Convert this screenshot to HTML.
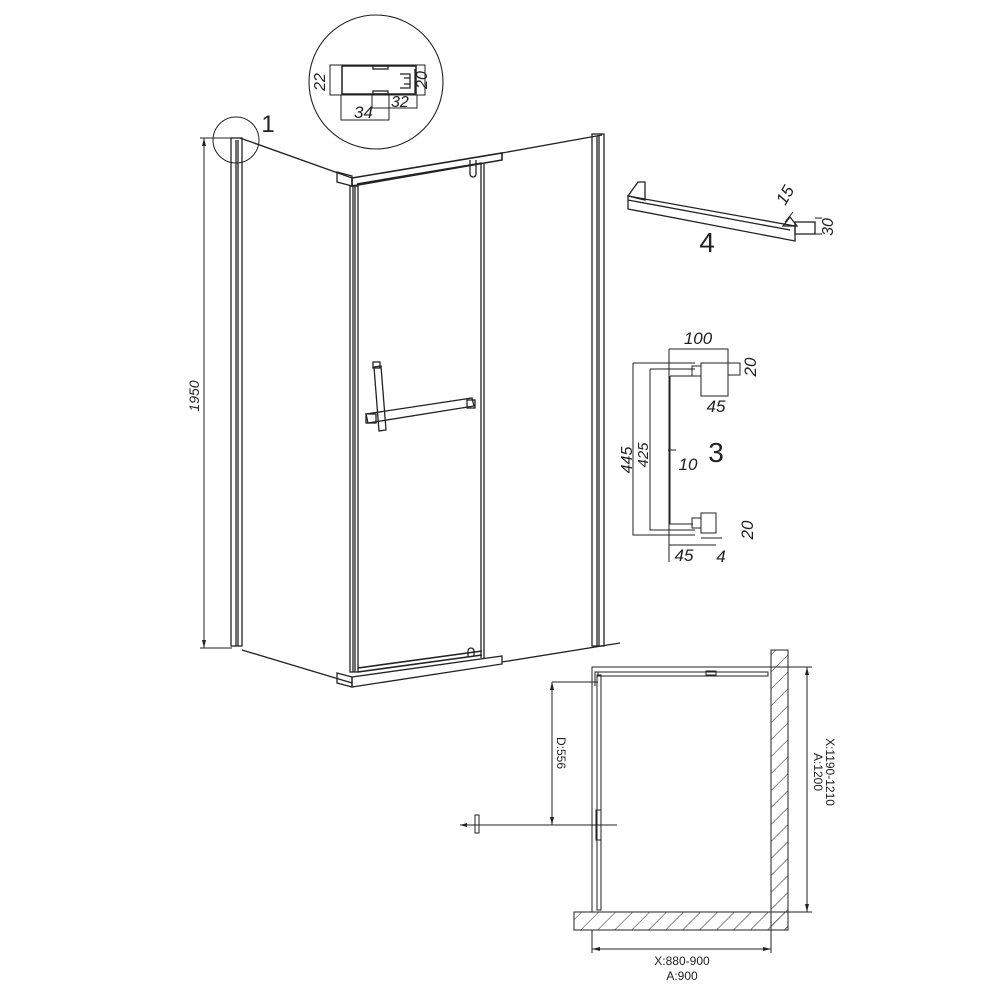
<!DOCTYPE html>
<html><head><meta charset="utf-8"><style>html,body{margin:0;padding:0;background:#fff}svg{display:block}</style></head>
<body>
<svg width="1000" height="1000" viewBox="0 0 1000 1000" xmlns="http://www.w3.org/2000/svg" font-family="Liberation Sans, sans-serif">
<defs>
<pattern id="h" width="12" height="12" patternUnits="userSpaceOnUse" patternTransform="rotate(45)">
<line x1="0" y1="0" x2="0" y2="12" stroke="#222" stroke-width="1"/>
</pattern>
</defs>
<rect width="1000" height="1000" fill="#fff"/>
<g fill="none" stroke="#222" stroke-width="1.3">
<circle cx="236" cy="140" r="23" stroke-width="1"/>
<rect x="231" y="138" width="11" height="508"/>
<line x1="236" y1="140" x2="236" y2="646"/>
<line x1="238" y1="140" x2="238" y2="646"/>
<line x1="240" y1="138" x2="352" y2="178"/>
<polygon points="337,172 352,176 352,186 337,182"/>
<polygon points="352,178 502,153 502,160 352,186" stroke-width="1.6"/>
<line x1="357" y1="184" x2="482" y2="163" stroke-width="1.6"/>
<line x1="502" y1="153" x2="602" y2="135"/>
<rect x="592" y="134" width="12" height="512"/>
<line x1="597" y1="136" x2="597" y2="646"/>
<line x1="599" y1="136" x2="599" y2="646"/>
<rect x="350" y="186" width="8" height="486"/>
<line x1="353" y1="186" x2="353" y2="672"/>
<line x1="355" y1="186" x2="355" y2="672"/>
<line x1="481" y1="164" x2="481" y2="658"/>
<line x1="484" y1="164" x2="484" y2="658"/>
<path d="M470 160 v14 a3 3 0 0 0 6 0 v-14"/>
<line x1="242" y1="650" x2="352" y2="683"/>
<polygon points="337,673 352,677 352,687 337,683"/>
<polygon points="352,677 502,656 502,664 352,687"/>
<line x1="358" y1="668" x2="482" y2="651" stroke-width="1.6"/>
<line x1="358" y1="672" x2="482" y2="655" stroke-width="1.6"/>
<path d="M468 657 v-6 a3 3 0 0 1 6 0 v5"/>
<line x1="502" y1="662" x2="620" y2="643"/>
<line x1="204" y1="138" x2="204" y2="648" stroke-width="1"/>
<line x1="200" y1="138" x2="232" y2="138" stroke-width="1"/>
<line x1="200" y1="648" x2="232" y2="648" stroke-width="1"/>
<polygon points="374,367 381,366 386,430 379,431"/>
<rect x="373" y="362" width="7" height="6"/>
<polygon points="366,414 472,398 474,406 368,423"/>
<rect x="366" y="414" width="10" height="9"/>
<rect x="467" y="400" width="8" height="8"/>
<circle cx="376" cy="82" r="67" stroke-width="1.1"/>
<rect x="330" y="65" width="95" height="30" stroke-width="1"/>
<rect x="342" y="66" width="74" height="28" stroke-width="1.5"/>
<rect x="373" y="66" width="15" height="3"/>
<rect x="373" y="91" width="15" height="3"/>
<path d="M415 69 v24 M400 74 h10 v14 h-10 M404 78 h6 v6 h-6"/>
<rect x="341" y="95" width="48" height="25" stroke-width="1"/>
<rect x="372" y="95" width="45" height="13" stroke-width="1"/>
<polygon points="628,196 795,226 795,241 628,209"/>
<line x1="628" y1="200" x2="790" y2="230"/>
<polygon points="628,196 638,182 645,182 645,200"/>
<polygon points="783,226 790,217 797,226"/>
<rect x="795" y="222" width="20" height="12"/>
<line x1="815" y1="218" x2="822" y2="218" stroke-width="1"/>
<line x1="815" y1="234" x2="822" y2="234" stroke-width="1"/>
<line x1="785" y1="222" x2="793" y2="212" stroke-width="1"/>
<g stroke-width="1">
<path d="M633 363 H695 M633 363 V535 H695"/>
<path d="M650 369 H695 M650 369 V530 H695"/>
<path d="M670 376 H693 M670 376 V524 H693"/>
<path d="M669 380 V562 M669 349 V380 M669 349 H728 V396 H701 V363 H740 V375 H728"/>
<rect x="692" y="366" width="9" height="10"/>
<rect x="692" y="518" width="9" height="10"/>
<rect x="701" y="513" width="15" height="20"/>
<line x1="669" y1="545" x2="716" y2="545"/>
<line x1="701" y1="538" x2="722" y2="538"/>
<line x1="668" y1="450" x2="676" y2="450"/>
</g>
<rect x="771" y="650" width="17" height="280" fill="url(#h)" stroke-width="1"/>
<rect x="574" y="912" width="214" height="18" fill="url(#h)" stroke-width="1"/>
<path d="M592 912 V667 H771" stroke-width="1"/>
<rect x="598" y="672" width="170" height="4" stroke-width="1"/>
<rect x="597" y="675" width="4" height="235" stroke-width="1"/>
<path d="M595 686 V672 H603" stroke-width="1"/>
<rect x="706" y="671" width="10" height="4" stroke-width="1"/>
<g stroke-width="1">
<line x1="552" y1="682" x2="598" y2="682"/>
<line x1="552" y1="682" x2="552" y2="825"/>
<line x1="460" y1="825" x2="617" y2="825"/>
<rect x="475" y="815" width="4" height="18"/>
<rect x="596" y="810" width="5" height="30"/>
<line x1="771" y1="667" x2="812" y2="667"/>
<line x1="788" y1="912" x2="812" y2="912"/>
<line x1="807" y1="667" x2="807" y2="912"/>
<line x1="592" y1="930" x2="592" y2="953"/>
<line x1="771" y1="930" x2="771" y2="953"/>
<line x1="592" y1="949" x2="771" y2="949"/>
</g>
</g>
<g fill="#222">
<polygon points="204,138 202,146 206,146"/><polygon points="204,648 202,640 206,640"/>
<polygon points="552,682 550,690 554,690"/><polygon points="552,825 550,817 554,817"/>
<polygon points="807,667 805,675 809,675"/><polygon points="807,912 805,904 809,904"/>
<polygon points="592,949 600,947 600,951"/><polygon points="771,949 763,947 763,951"/>
<polygon points="460,825 467,823 467,827"/>
</g>
<g fill="#222" font-size="13">
<text x="268" y="132" font-size="24" text-anchor="middle">1</text>
<text transform="translate(199,396) rotate(-90)" text-anchor="middle" font-style="italic" font-size="14">1950</text>
<text x="707" y="252" font-size="28" text-anchor="middle">4</text>
<text x="716" y="462" font-size="28" text-anchor="middle">3</text>
<text transform="translate(790,198) rotate(-60)" text-anchor="middle" font-style="italic" font-size="17">15</text>
<text transform="translate(833,227) rotate(-90)" text-anchor="middle" font-style="italic" font-size="16">30</text>
<text transform="translate(325,82) rotate(-90)" text-anchor="middle" font-style="italic" font-size="16">22</text>
<text transform="translate(427,80) rotate(-90)" text-anchor="middle" font-style="italic" font-size="16">20</text>
<text x="354" y="118" font-style="italic" font-size="17">34</text>
<text x="391" y="107" font-style="italic" font-size="16">32</text>
<text x="698" y="344" text-anchor="middle" font-style="italic" font-size="17">100</text>
<text x="716" y="412" text-anchor="middle" font-style="italic" font-size="17">45</text>
<text transform="translate(756,367) rotate(-90)" text-anchor="middle" font-style="italic" font-size="17">20</text>
<text transform="translate(632,460) rotate(-90)" text-anchor="middle" font-style="italic" font-size="16">445</text>
<text transform="translate(648,455) rotate(-90)" text-anchor="middle" font-style="italic" font-size="15">425</text>
<text x="688" y="470" text-anchor="middle" font-style="italic" font-size="17">10</text>
<text transform="translate(753,530) rotate(-90)" text-anchor="middle" font-style="italic" font-size="17">20</text>
<text x="684" y="561" text-anchor="middle" font-style="italic" font-size="17">45</text>
<text x="721" y="562" text-anchor="middle" font-style="italic" font-size="17">4</text>
<text transform="translate(557,753) rotate(90)" text-anchor="middle" font-size="12">D:556</text>
<text transform="translate(826,772) rotate(90)" text-anchor="middle" font-size="12">X:1190-1210</text>
<text transform="translate(814,772) rotate(90)" text-anchor="middle" font-size="12">A:1200</text>
<text x="682" y="965" text-anchor="middle" font-size="12">X:880-900</text>
<text x="682" y="980" text-anchor="middle" font-size="12">A:900</text>
</g>
</svg>
</body></html>
